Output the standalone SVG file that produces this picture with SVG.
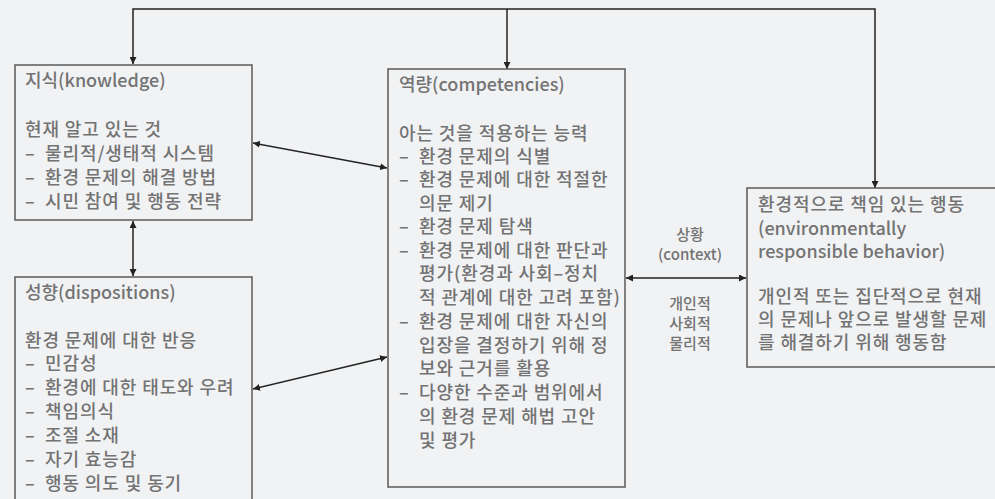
<svg xmlns="http://www.w3.org/2000/svg" width="995" height="499" viewBox="0 0 995 499">
<style>
.bg{fill:#f1f2f4}
.box{fill:#f1f2f4;stroke:#5a5a5a;stroke-width:1.5}
.t{font-family:"Noto Sans CJK KR","Noto Sans",sans-serif;font-size:18px;font-weight:500;fill:#737373}
.k{letter-spacing:0.9px}
.n{letter-spacing:0}
.s{font-family:"Noto Sans CJK KR","Noto Sans",sans-serif;font-size:15px;font-weight:500;fill:#737373;text-anchor:middle}
.c{fill:none;stroke:#222;stroke-width:1.5}
</style>
<defs>
<marker id="ah" viewBox="0 0 10 10" refX="10" refY="5" markerWidth="7" markerHeight="7" orient="auto-start-reverse" markerUnits="userSpaceOnUse">
<path d="M0,0 L10,5 L0,10 z" fill="#222"/>
</marker>
</defs>
<rect class="bg" x="0" y="0" width="995" height="499"/>
<g id="connectors">
<polyline class="c" points="133,64 133,9 875,9 875,188" marker-start="url(#ah)" marker-end="url(#ah)"/>
<line class="c" x1="507" y1="9" x2="507" y2="69" marker-end="url(#ah)"/>
<line class="c" x1="133" y1="221" x2="133" y2="276" marker-start="url(#ah)" marker-end="url(#ah)"/>
<line class="c" x1="253" y1="143" x2="387" y2="168" marker-start="url(#ah)" marker-end="url(#ah)"/>
<line class="c" x1="253" y1="389" x2="387" y2="357" marker-start="url(#ah)" marker-end="url(#ah)"/>
<line class="c" x1="626" y1="278" x2="746" y2="278" marker-start="url(#ah)" marker-end="url(#ah)"/>
</g>
<g id="context-label">
<text class="s"><tspan x="690" y="240">상황</tspan><tspan x="690" y="260">(context)</tspan></text>
<text class="s"><tspan x="690" y="309">개인적</tspan><tspan x="690" y="329">사회적</tspan><tspan x="690" y="349">물리적</tspan></text>
</g>
<g id="knowledge">
<rect class="box" x="15" y="65" width="237" height="155"/>
<text class="t k"><tspan class="n" x="25" y="87">지식(knowledge)</tspan><tspan x="25" y="136">현재 알고 있는 것</tspan><tspan x="25" y="160">–</tspan><tspan x="45" y="160">물리적/생태적 시스템</tspan><tspan x="25" y="184">–</tspan><tspan x="45" y="184">환경 문제의 해결 방법</tspan><tspan x="25" y="208">–</tspan><tspan x="45" y="208">시민 참여 및 행동 전략</tspan></text>
</g>
<g id="dispositions">
<rect class="box" x="15" y="277" width="237" height="240"/>
<text class="t k"><tspan class="n" x="25" y="299">성향(dispositions)</tspan><tspan x="25" y="347">환경 문제에 대한 반응</tspan><tspan x="25" y="370">–</tspan><tspan x="45" y="370">민감성</tspan><tspan x="25" y="394">–</tspan><tspan x="45" y="394">환경에 대한 태도와 우려</tspan><tspan x="25" y="418">–</tspan><tspan x="45" y="418">책임의식</tspan><tspan x="25" y="442">–</tspan><tspan x="45" y="442">조절 소재</tspan><tspan x="25" y="466">–</tspan><tspan x="45" y="466">자기 효능감</tspan><tspan x="25" y="490">–</tspan><tspan x="45" y="490">행동 의도 및 동기</tspan></text>
</g>
<g id="competencies">
<rect class="box" x="388" y="69" width="237" height="418"/>
<text class="t k"><tspan class="n" x="399" y="91">역량(competencies)</tspan><tspan x="399" y="140">아는 것을 적용하는 능력</tspan><tspan x="399" y="163">–</tspan><tspan x="419" y="163">환경 문제의 식별</tspan><tspan x="399" y="186">–</tspan><tspan x="419" y="186">환경 문제에 대한 적절한</tspan><tspan x="419" y="210">의문 제기</tspan><tspan x="399" y="233">–</tspan><tspan x="419" y="233">환경 문제 탐색</tspan><tspan x="399" y="257">–</tspan><tspan x="419" y="257">환경 문제에 대한 판단과</tspan><tspan x="419" y="280">평가(환경과 사회–정치</tspan><tspan x="419" y="304">적 관계에 대한 고려 포함)</tspan><tspan x="399" y="328">–</tspan><tspan x="419" y="328">환경 문제에 대한 자신의</tspan><tspan x="419" y="352">입장을 결정하기 위해 정</tspan><tspan x="419" y="375">보와 근거를 활용</tspan><tspan x="399" y="399">–</tspan><tspan x="419" y="399">다양한 수준과 범위에서</tspan><tspan x="419" y="423">의 환경 문제 해법 고안</tspan><tspan x="419" y="447">및 평가</tspan></text>
</g>
<g id="behavior">
<rect class="box" x="747" y="188" width="260" height="179"/>
<text class="t k"><tspan x="758" y="211">환경적으로 책임 있는 행동</tspan><tspan class="n" x="758" y="235">(environmentally</tspan><tspan class="n" x="758" y="258">responsible behavior)</tspan><tspan x="758" y="303">개인적 또는 집단적으로 현재</tspan><tspan x="758" y="326">의 문제나 앞으로 발생할 문제</tspan><tspan x="758" y="349">를 해결하기 위해 행동함</tspan></text>
</g>
</svg>
